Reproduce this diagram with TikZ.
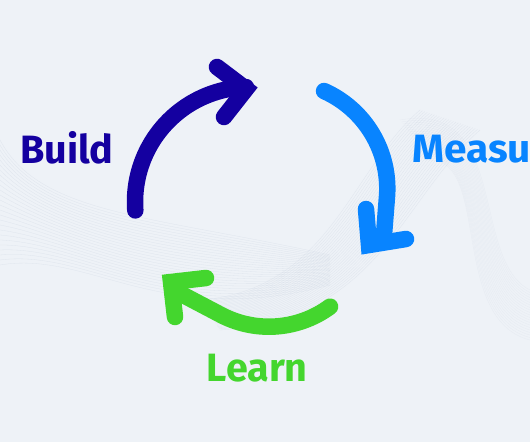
\documentclass[tikz,border=0pt]{standalone}
\usepackage{fontspec}
\setsansfont{Fira Sans}
\usetikzlibrary{calc}
\definecolor{bgc}{RGB}{238,242,247}
\definecolor{buildc}{RGB}{20,0,160}
\definecolor{measc}{RGB}{8,132,255}
\definecolor{learnc}{RGB}{68,214,46}
\definecolor{wavec}{RGB}{196,205,220}
\begin{document}
\begin{tikzpicture}[x=1pt,y=-1pt,
  shaft/.style={line width=16.5pt, line cap=round, line join=round},
  chevron/.style={line width=16.5pt, line cap=round, line join=miter, miter limit=10},
  lbl/.style={inner sep=0pt, anchor=base west, font=\sffamily\bfseries\fontsize{39.5}{39.5}\selectfont},
  wave/.style={draw=wavec, line width=0.3pt, opacity=0.35},
  wavelight/.style={draw=wavec, line width=0.3pt, opacity=0.2}]
\fill[bgc] (0,0) rectangle (530,442);
\useasboundingbox (0,0) rectangle (530,442);
% background ribbons
\coordinate (a0) at (0,140);   \coordinate (b0) at (0,265);
\coordinate (a1) at (40,215);  \coordinate (b1) at (90,250);
\coordinate (a2) at (150,215); \coordinate (b2) at (160,330);
\coordinate (a3) at (330,255); \coordinate (b3) at (330,285);
\foreach \t in {0,0.04,...,1.001}{
  \draw[wave] ($(a0)!\t!(b0)$) .. controls ($(a1)!\t!(b1)$) and ($(a2)!\t!(b2)$) .. ($(a3)!\t!(b3)$);
}
\coordinate (c0) at (200,300); \coordinate (d0) at (220,330);
\coordinate (c1) at (330,290); \coordinate (d1) at (380,320);
\coordinate (c2) at (350,170); \coordinate (d2) at (400,200);
\coordinate (c3) at (420,110); \coordinate (d3) at (480,130);
\foreach \t in {0,0.04,...,1.001}{
  \draw[wave] ($(c0)!\t!(d0)$) .. controls ($(c1)!\t!(d1)$) and ($(c2)!\t!(d2)$) .. ($(c3)!\t!(d3)$);
}
\coordinate (e0) at (400,120); \coordinate (f0) at (430,160);
\coordinate (e1) at (510,100); \coordinate (f1) at (490,160);
\coordinate (e2) at (470,260); \coordinate (f2) at (450,320);
\coordinate (e3) at (530,290); \coordinate (f3) at (530,340);
\foreach \t in {0,0.05,...,1.001}{
  \draw[wavelight] ($(e0)!\t!(f0)$) .. controls ($(e1)!\t!(f1)$) and ($(e2)!\t!(f2)$) .. ($(e3)!\t!(f3)$);
}
% Build arrow (dark blue)
\draw[shaft, buildc] plot[domain=175.8:268, samples=50] ({250+115*cos(\x)},{202+115*sin(\x)});
\coordinate (bA1) at (217,67); \coordinate (bV) at (246,89); \coordinate (bA2) at (224,117);
\draw[chevron, buildc] (bA1) -- (bV) -- (bA2);
% Measure arrow (light blue)
\coordinate (mE) at (383.5,241);
\draw[shaft, measc] plot[domain=-65.9:5, samples=50] ({280.4+106.9*cos(\x)},{188.6+106.9*sin(\x)}) -- (mE);
\coordinate (mA1) at (366,209); \coordinate (mV) at (369,245); \coordinate (mA2) at (406,239);
\draw[chevron, measc] (mA1) -- (mV) -- (mA2);
% Learn arrow (green)
\coordinate (lE) at (181.8,294.3);
\draw[shaft, learnc] plot[domain=53.7:117.8, samples=50] ({268.9+103.3*cos(\x)},{223.4+103.3*sin(\x)}) -- (lE);
\coordinate (lA1) at (206,278); \coordinate (lV) at (171,282); \coordinate (lA2) at (175,317);
\draw[chevron, learnc] (lA1) -- (lV) -- (lA2);
% labels
\node[lbl, text=buildc] (build) at (20,163) {Build};
\node[lbl, text=measc] (measure) at (412,162.7) {\scalebox{1.03}[1]{Measu}};
\node[lbl, text=learnc] (learn) at (206.5,381.7) {Learn};
\end{tikzpicture}
\end{document}
